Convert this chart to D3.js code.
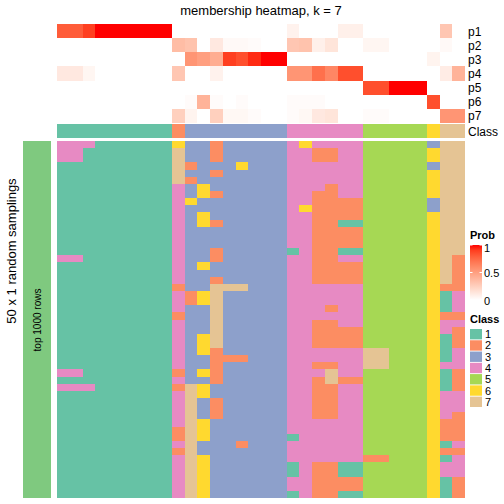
<!DOCTYPE html>
<html><head><meta charset="utf-8">
<script src="https://cdn.jsdelivr.net/npm/d3@7"></script>
<style>body{margin:0;background:#fff}svg{display:block;font-family:"Liberation Sans",Arial,sans-serif}</style>
</head><body><svg id="c" width="504" height="504"></svg>
<script>
// ---------- data ----------
const classes = ["1","2","3","4","5","6","7"];
const classColors = ["#66C2A5","#FC8D62","#8DA0CB","#E78AC3","#A6D854","#FFD92F","#E5C494"];
const columnClass = [1,1,1,1,1,1,1,1,1,2,3,3,3,3,3,3,3,3,4,4,4,4,4,4,5,5,5,5,5,6,7,7];
const probNames = ["p1","p2","p3","p4","p5","p6","p7"];
const p1 = [0.8,0.8,0.9,1,1,1,1,1,1,0,0,0,0,0,0,0,0,0,0.07,0,0,0,0.08,0.08,0,0,0,0,0,0,0.3,0];
const p2 = [0,0,0,0,0,0,0,0,0,0.35,0.32,0,0.12,0.03,0.03,0.02,0,0,0.3,0.32,0.08,0.14,0,0,0.05,0.05,0,0,0,0,0.03,0];
const p3 = [0,0,0,0,0,0,0,0,0,0,0.55,0.5,0.43,0.9,0.85,0.95,1,1,0,0,0,0,0,0,0,0,0,0,0,0.06,0,0];
const p4 = [0.12,0.12,0.05,0,0,0,0,0,0,0.3,0,0,0.07,0,0,0,0,0,0.55,0.55,0.72,0.62,0.85,0.85,0,0,0,0,0,0,0.1,0.4];
const p5 = [0,0,0,0,0,0,0,0,0,0,0,0,0,0,0,0,0,0,0,0,0,0,0,0,0.85,0.85,1,1,1,0,0,0];
const p6 = [0,0,0,0,0,0,0,0,0,0,0.02,0.4,0.02,0,0.02,0,0,0,0.02,0.02,0.02,0,0,0,0,0,0,0,0,0.85,0,0];
const p7 = [0,0,0,0,0,0,0,0,0,0.25,0.06,0,0.25,0.04,0.04,0.02,0,0,0.02,0.04,0.12,0.14,0,0,0.02,0.02,0,0,0,0,0.55,0.55];
const membership = [
"444111111 6 33233333 464444 55555 3 77",
"441111111 7 33233333 442244 55555 6 77",
"441111111 7 33233333 442244 55555 6 77",
"111111111 7 23336333 444444 55555 3 77",
"111111111 7 33233333 444444 55555 6 77",
"111111111 7 23333333 444444 55555 6 77",
"111111111 4 36333333 444244 55555 6 77",
"111111111 4 36233333 442244 55555 6 77",
"111111111 4 63333333 442222 55555 3 77",
"111111111 4 33333333 462222 55555 3 77",
"111111111 4 36333333 442222 55555 6 77",
"111111111 4 36233333 442211 55555 6 77",
"111111111 4 33333333 442222 55555 6 77",
"111111111 4 33333333 442222 55555 6 77",
"111111111 4 33333333 442222 55555 6 77",
"111111111 4 33233333 142211 55555 6 77",
"441111111 4 33233333 442244 55555 6 72",
"111111111 4 36333333 442222 55555 6 72",
"111111111 4 33333333 442222 55555 6 72",
"111111111 4 33233333 442222 55555 6 72",
"111111111 2 33777333 444444 55555 6 22",
"111111111 4 26733333 444444 55555 6 14",
"111111111 4 26733333 444444 55555 6 14",
"111111111 4 33733333 444244 55555 6 14",
"111111111 2 33733333 444444 55555 6 22",
"111111111 4 33733333 442244 55555 6 44",
"111111111 4 33733333 442222 55555 6 42",
"111111111 4 36733333 442222 55555 6 12",
"111111111 4 36733333 442222 55555 6 12",
"111111111 4 36233333 444444 77555 6 14",
"111111111 4 33222333 444444 77555 6 14",
"111111111 4 33233333 442244 77555 6 44",
"441111111 2 36233333 444744 55555 6 12",
"111111111 4 33233333 442722 55555 6 12",
"444111111 2 76333333 442244 55555 6 12",
"111111111 4 76333333 442244 55555 6 44",
"111111111 4 73233333 442244 55555 6 44",
"111111111 4 73233333 442244 55555 6 44",
"111111111 4 73233333 442244 55555 6 42",
"111111111 4 76333333 444444 55555 6 22",
"111111111 2 76333333 444444 55555 6 22",
"111111111 2 76333333 144444 55555 6 22",
"111111111 4 73332333 444444 55555 6 14",
"111111111 2 73333333 444444 55555 6 22",
"111111111 4 76333333 444444 22555 6 14",
"111111111 4 76333333 142211 55555 6 44",
"111111111 4 76333333 142211 55555 6 44",
"111111111 4 76333333 442222 55555 6 12",
"111111111 4 76333333 442222 55555 6 12",
"111111111 4 76333333 142211 55555 6 12"
];
const legendTicks = [0, 0.5, 1];
const titleText = "membership heatmap, k = 7";
const rowTitle = "50 x 1 random samplings";
const sliceLabel = "top 1000 rows";

// ---------- build ----------
const probs = [p1,p2,p3,p4,p5,p6,p7];
const nCol = columnClass.length;
const grid = membership.map(s => s.replace(/ /g, "").split("").map(Number));
const nRow = grid.length;

const svg = d3.select("#c");
const x = d3.scaleBand().domain(d3.range(nCol)).range([57, 465]);
const yAnn = d3.scaleBand().domain(probNames).range([24, 123]);
const yMain = d3.scaleBand().domain(d3.range(nRow)).range([141, 498]);
const probColor = d3.scaleLinear().domain([0, 1]).range(["#ffffff", "#ff0000"]).interpolate(d3.interpolateLab);
const classColor = d3.scaleOrdinal().domain(classes).range(classColors);

// title
svg.append("text").attr("x", 261).attr("y", 15).attr("text-anchor", "middle")
  .attr("font-size", 13).text(titleText);

// probability annotation
const annCells = [];
probNames.forEach((p, i) => probs[i].forEach((v, j) => annCells.push({p, j, v})));
svg.append("g").attr("shape-rendering", "crispEdges").selectAll("rect").data(annCells).join("rect")
  .attr("x", d => x(d.j)).attr("y", d => yAnn(d.p))
  .attr("width", x.bandwidth() + 0.4).attr("height", yAnn.bandwidth() + 0.4)
  .attr("fill", d => probColor(d.v));
svg.append("g").selectAll("text").data(probNames).join("text")
  .attr("x", 468).attr("y", d => yAnn(d) + yAnn.bandwidth() / 2 + 4.5)
  .attr("font-size", 12).text(d => d);

// class annotation
svg.append("g").attr("shape-rendering", "crispEdges").selectAll("rect").data(columnClass).join("rect")
  .attr("x", (d, j) => x(j)).attr("y", 124).attr("width", x.bandwidth() + 0.4).attr("height", 14)
  .attr("fill", d => classColor(String(d)));
svg.append("text").attr("x", 468).attr("y", 135.5).attr("font-size", 12).text("Class");

// main heatmap
const cells = [];
grid.forEach((row, i) => row.forEach((c, j) => cells.push({i, j, c})));
svg.append("g").attr("shape-rendering", "crispEdges").selectAll("rect").data(cells).join("rect")
  .attr("x", d => x(d.j)).attr("y", d => yMain(d.i))
  .attr("width", x.bandwidth() + 0.4).attr("height", yMain.bandwidth() + 0.4)
  .attr("fill", d => classColor(String(d.c)));

// left slice bar
svg.append("rect").attr("x", 23).attr("y", 141).attr("width", 28).attr("height", 357).attr("fill", "#7FC97F");
svg.append("text").attr("transform", "translate(40.5,320) rotate(-90)").attr("text-anchor", "middle")
  .attr("font-size", 10).text(sliceLabel);
svg.append("text").attr("transform", "translate(16,251) rotate(-90)").attr("text-anchor", "middle")
  .attr("font-size", 13).text(rowTitle);

// Prob legend
const lg = svg.append("g");
lg.append("text").attr("x", 470).attr("y", 239).attr("font-size", 11).attr("font-weight", "bold").text("Prob");
const defs = svg.append("defs");
const grad = defs.append("linearGradient").attr("id", "pg").attr("x1", 0).attr("y1", 1).attr("x2", 0).attr("y2", 0);
d3.range(0, 1.0001, 0.1).forEach(t => grad.append("stop").attr("offset", t).attr("stop-color", probColor(t)));
const yLeg = d3.scaleLinear().domain([0, 1]).range([300, 245]);
lg.append("rect").attr("x", 470).attr("y", yLeg(1)).attr("width", 12).attr("height", yLeg(0) - yLeg(1)).attr("fill", "url(#pg)");
legendTicks.forEach(t => {
  lg.append("line").attr("x1", 470).attr("x2", 472.5).attr("y1", yLeg(t)).attr("y2", yLeg(t)).attr("stroke", "#fff").attr("stroke-width", 1);
  lg.append("line").attr("x1", 479.5).attr("x2", 482).attr("y1", yLeg(t)).attr("y2", yLeg(t)).attr("stroke", "#fff").attr("stroke-width", 1);
  lg.append("text").attr("x", 484).attr("y", t === 1 ? yLeg(t) + 7 : yLeg(t) + 4.5).attr("font-size", 11).text(d3.format("~g")(t));
});

// Class legend
const cl = svg.append("g");
cl.append("text").attr("x", 470).attr("y", 323).attr("font-size", 11).attr("font-weight", "bold").text("Class");
const yCl = d3.scaleBand().domain(classes).range([329, 407]).paddingInner(0.08);
cl.selectAll("rect").data(classes).join("rect")
  .attr("x", 470).attr("y", d => yCl(d)).attr("width", 12).attr("height", yCl.bandwidth())
  .attr("fill", d => classColor(d));
cl.selectAll("text.l").data(classes).join("text").attr("class", "l")
  .attr("x", 485).attr("y", d => yCl(d) + yCl.bandwidth() / 2 + 4).attr("font-size", 11).text(d => d);
</script></body></html>
